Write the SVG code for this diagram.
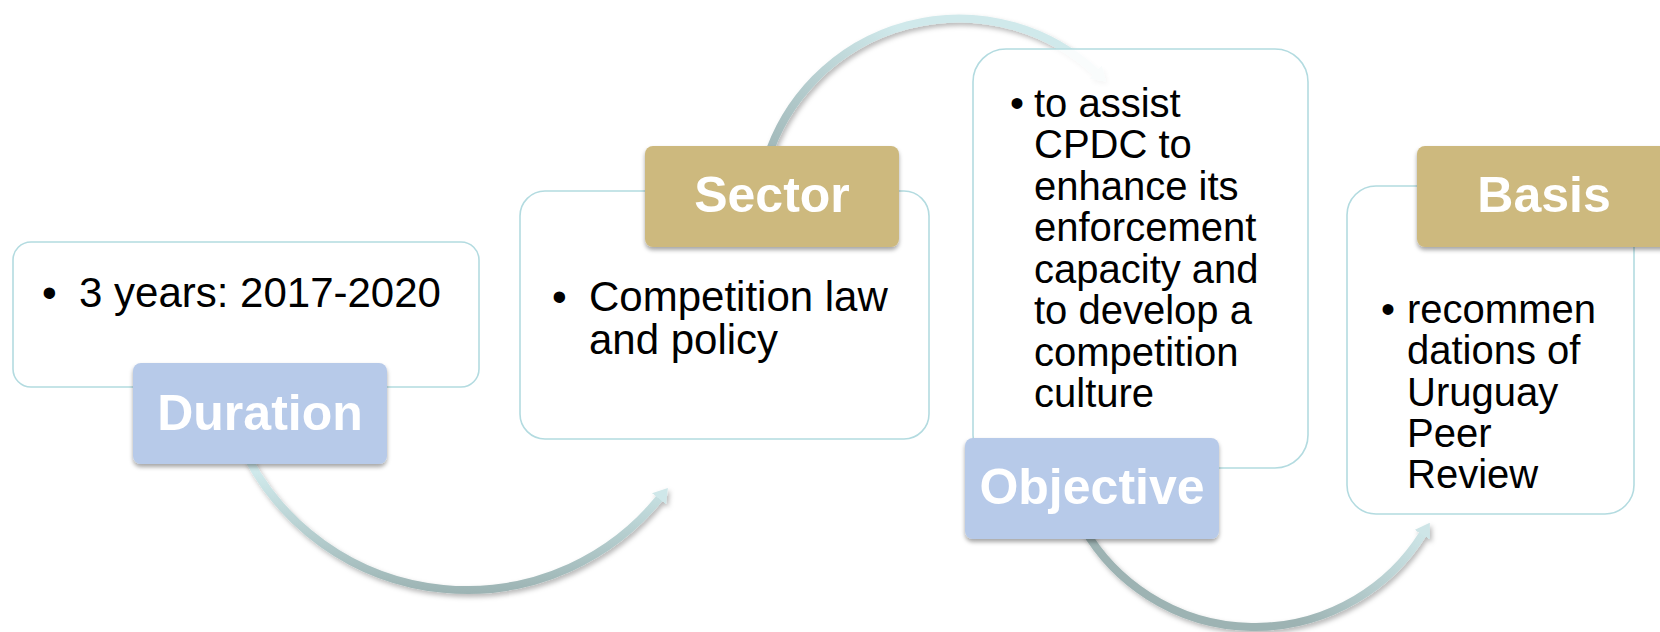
<svg xmlns="http://www.w3.org/2000/svg" width="1660" height="632" viewBox="0 0 1660 632">
  <style>
    .box { fill: #ffffff; fill-opacity: 0.86; stroke: #B3DBE0; stroke-width: 1.6; }
    .lblBlue { fill: #B7CAE9; }
    .lblTan { fill: #CDB97E; }
    .lbl { filter: url(#shLbl); }
    .lt { font-family: "Liberation Sans", Arial, sans-serif; font-weight: bold; font-size: 50px; fill: #ffffff; text-anchor: middle; }
    .bt { font-family: "Liberation Sans", Arial, sans-serif; fill: #000000; }
    .arc { fill: none; stroke-width: 8; filter: url(#shArc); }
  </style>
  <defs>
    <filter id="shLbl" x="-10%" y="-10%" width="120%" height="130%">
      <feDropShadow dx="0" dy="3" stdDeviation="2" flood-color="#000" flood-opacity="0.35"/>
    </filter>
    <filter id="shArc" x="-10%" y="-10%" width="120%" height="130%">
      <feDropShadow dx="2" dy="3" stdDeviation="2.5" flood-color="#000" flood-opacity="0.28"/>
    </filter>
    <linearGradient id="g1" gradientUnits="userSpaceOnUse" x1="0" y1="470" x2="0" y2="592">
      <stop offset="0" stop-color="#D0EAEC"/>
      <stop offset="1" stop-color="#9DB4B4"/>
    </linearGradient>
    <linearGradient id="g2" gradientUnits="userSpaceOnUse" x1="775" y1="150" x2="900" y2="30">
      <stop offset="0" stop-color="#A3BABB"/>
      <stop offset="1" stop-color="#D0E9EB"/>
    </linearGradient>
    <linearGradient id="g3" gradientUnits="userSpaceOnUse" x1="1300" y1="622" x2="1430" y2="525">
      <stop offset="0" stop-color="#9DB3B3"/>
      <stop offset="1" stop-color="#D0E8EA"/>
    </linearGradient>
    <marker id="ah1" viewBox="0 0 14 18" refX="1" refY="9" markerWidth="14" markerHeight="18" markerUnits="userSpaceOnUse" orient="auto">
      <path d="M0,0 L14,9 L0,18 Z" fill="#CFE7E9"/>
    </marker>
    <marker id="ah2" viewBox="0 0 14 18" refX="1" refY="9" markerWidth="14" markerHeight="18" markerUnits="userSpaceOnUse" orient="auto">
      <path d="M0,0 L14,9 L0,18 Z" fill="#D0E9EB"/>
    </marker>
    <marker id="ah3" viewBox="0 0 14 18" refX="1" refY="9" markerWidth="14" markerHeight="18" markerUnits="userSpaceOnUse" orient="auto">
      <path d="M0,0 L14,9 L0,18 Z" fill="#CEE5E7"/>
    </marker>
  </defs>

  <g id="connectors">
    <path class="arc" d="M248,458.4 A248,248 0 0 0 659.7,498.1" stroke="url(#g1)" marker-end="url(#ah1)"/>
    <path class="arc" d="M766.6,160 A201.5,201.5 0 0 1 1096.4,72.7" stroke="url(#g2)" marker-end="url(#ah2)"/>
    <path class="arc" d="M1083.5,528 A198,198 0 0 0 1422.9,533.9" stroke="url(#g3)" marker-end="url(#ah3)"/>
  </g>

  <g id="node-duration">
    <rect class="box" x="13" y="242" width="466" height="145" rx="18"/>
    <text class="bt" font-size="42" x="42" y="307">•</text>
    <text class="bt" font-size="42" x="79" y="307">3 years: 2017-2020</text>
    <rect class="lbl lblBlue" x="133" y="363" width="254" height="101" rx="8"/>
    <text class="lt" x="260" y="430">Duration</text>
  </g>

  <g id="node-sector">
    <rect class="box" x="520" y="191" width="409" height="248" rx="25"/>
    <text class="bt" font-size="42" x="552" y="311">•</text>
    <text class="bt" font-size="42"><tspan x="589" y="311">Competition law</tspan><tspan x="589" y="354">and policy</tspan></text>
    <rect class="lbl lblTan" x="645" y="146" width="254" height="101" rx="8"/>
    <text class="lt" x="772" y="212">Sector</text>
  </g>

  <g id="node-objective">
    <rect class="box" x="973" y="49" width="335" height="419" rx="33"/>
    <text class="bt" font-size="40" x="1010" y="117">•</text>
    <text class="bt" font-size="40"><tspan x="1034" y="117">to assist</tspan><tspan x="1034" y="158.4">CPDC to</tspan><tspan x="1034" y="199.9">enhance its</tspan><tspan x="1034" y="241.3">enforcement</tspan><tspan x="1034" y="282.7">capacity and</tspan><tspan x="1034" y="324.1">to develop a</tspan><tspan x="1034" y="365.6">competition</tspan><tspan x="1034" y="407">culture</tspan></text>
    <rect class="lbl lblBlue" x="965" y="438" width="254" height="101" rx="8"/>
    <text class="lt" x="1092" y="504">Objective</text>
  </g>

  <g id="node-basis">
    <rect class="box" x="1347" y="186" width="287" height="328" rx="29"/>
    <text class="bt" font-size="40" x="1381" y="323">•</text>
    <text class="bt" font-size="40"><tspan x="1407" y="323">recommen</tspan><tspan x="1407" y="364.3">dations of</tspan><tspan x="1407" y="405.5">Uruguay</tspan><tspan x="1407" y="446.8">Peer</tspan><tspan x="1407" y="488">Review</tspan></text>
    <rect class="lbl lblTan" x="1417" y="146" width="254" height="101" rx="8"/>
    <text class="lt" x="1544" y="212">Basis</text>
  </g>
</svg>
